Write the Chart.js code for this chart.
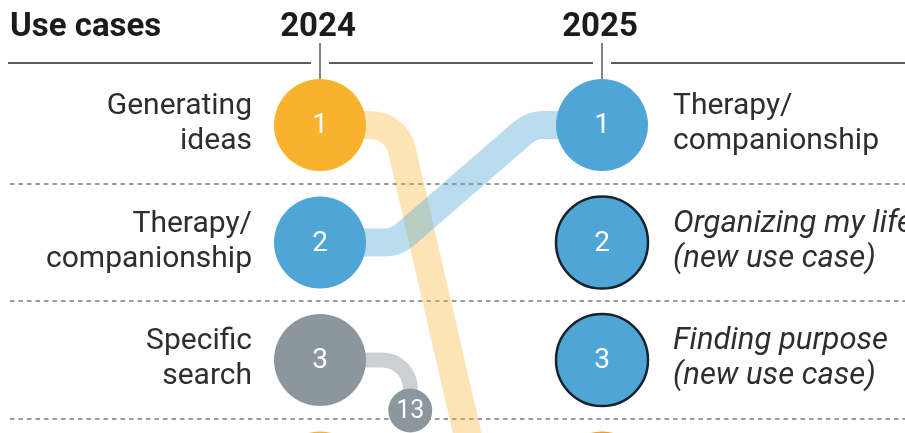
<!DOCTYPE html>
<html>
<head>
<meta charset="utf-8">
<script src="https://cdn.jsdelivr.net/npm/chart.js@4/dist/chart.umd.min.js"></script>
<style>
  html, body { margin: 0; padding: 0; background: #fff; }
  #wrap { width: 905px; height: 433px; position: relative; }
</style>
</head>
<body>
<div id="wrap"><canvas id="bump"></canvas></div>
<script>
const years = ["2024", "2025"];
const ranks = [1, 2, 3, 4];
const labels2024 = [["Generating", "ideas"], ["Therapy/", "companionship"], ["Specific", "search"], ["Editing text"]];
const labels2025 = [["Therapy/", "companionship"], ["Organizing my life", "(new use case)"], ["Finding purpose", "(new use case)"], ["Enhanced learning"]];
const newUseCase2025 = [false, true, true, false];
const group2024 = ["ideas", "support", "search", "ideas"];
const group2025 = ["support", "support", "support", "learning"];

// where the 2024 top three ended up in 2025
const movedFrom = [1, 2, 3];
const movedTo = [6, 1, 13];
const movedGroup = ["ideas", "support", "search"];
const LIST_LENGTH = 10; // anything ranked below this gets a short stub

const COLORS = { ideas: "#f8b22e", support: "#4fa5d6", search: "#8b969d", learning: "#f29d2a" };
const BANDS = { ideas: "rgba(248,178,46,0.35)", support: "rgba(79,170,214,0.4)", search: "rgba(139,150,157,0.45)" };
const FONT = "Roboto, 'Liberation Sans', sans-serif";

// pixel layout of the two year columns and the rank rows
const W = 905, H = 433;
const X0 = 320, X_UNIT = 282;
const Y0 = 125, Y_UNIT = 117.5;
const R = 46;

// stub marker sits just below and right of its 2024 circle
const stubPoints = movedTo
  .map((to, i) => ({ to, from: movedFrom[i], g: movedGroup[i] }))
  .filter(d => d.to > LIST_LENGTH);

function bandPath(ctx, x0, y0, x1, y1, xa, xb, r) {
  ctx.beginPath();
  ctx.moveTo(x0, y0);
  if (y0 !== y1) {
    ctx.arcTo(xa, y0, xb, y1, r);
    ctx.arcTo(xb, y1, x1, y1, r);
  }
  ctx.lineTo(x1, y1);
}

const bumpDecor = {
  id: "bumpDecor",
  beforeDatasetsDraw(chart) {
    const { ctx, scales: { x, y } } = chart;
    const xs = years.map((_, i) => x.getPixelForValue(i));
    ctx.save();

    // header
    ctx.fillStyle = "#1b1b1b";
    ctx.font = "bold 33px " + FONT;
    ctx.textBaseline = "alphabetic";
    ctx.textAlign = "left";
    ctx.fillText("Use cases", 10, 36);
    ctx.textAlign = "center";
    years.forEach((yr, i) => ctx.fillText(yr, xs[i] - 2, 36));

    // top rule with gaps for the year ticks
    ctx.strokeStyle = "#5a5a5a";
    ctx.lineWidth = 2;
    let start = 8;
    xs.forEach(px => {
      ctx.beginPath(); ctx.moveTo(start, 63); ctx.lineTo(px - 9, 63); ctx.stroke();
      start = px + 9;
    });
    ctx.beginPath(); ctx.moveTo(start, 63); ctx.lineTo(W, 63); ctx.stroke();
    ctx.lineWidth = 1.5;
    xs.forEach(px => {
      ctx.beginPath(); ctx.moveTo(px, 43); ctx.lineTo(px, y.getPixelForValue(1) - R); ctx.stroke();
    });

    // dashed separators between rows
    ctx.strokeStyle = "#9c9c9c";
    ctx.lineWidth = 2;
    ctx.setLineDash([4.5, 4]);
    ranks.forEach(r => {
      const py = Math.round(y.getPixelForValue(r + 0.5));
      ctx.beginPath(); ctx.moveTo(10, py); ctx.lineTo(W, py); ctx.stroke();
    });
    ctx.setLineDash([]);

    // bands linking 2024 rank to 2025 rank
    ctx.lineCap = "butt";
    ctx.lineJoin = "round";
    const xa = x.getPixelForValue(0.27), xb = x.getPixelForValue(0.75);
    movedFrom.forEach((from, i) => {
      const to = movedTo[i];
      const y0 = y.getPixelForValue(from);
      ctx.strokeStyle = BANDS[movedGroup[i]];
      if (to > LIST_LENGTH) {
        const sx = x.getPixelForValue(0.32), sy = y.getPixelForValue(from + 0.43);
        ctx.lineWidth = 15;
        ctx.beginPath();
        ctx.moveTo(xs[0], y0);
        ctx.arcTo(sx, y0, sx, sy, 28);
        ctx.lineTo(sx, sy);
        ctx.stroke();
      } else {
        ctx.lineWidth = 28;
        bandPath(ctx, xs[0], y0, xs[1], y.getPixelForValue(to), xa, xb, 32);
        ctx.stroke();
      }
    });
    ctx.restore();
  },
  afterDatasetsDraw(chart) {
    const { ctx, scales: { x, y } } = chart;
    ctx.save();

    // rank numbers inside the circles
    ctx.fillStyle = "#ffffff";
    ctx.textAlign = "center";
    ctx.textBaseline = "middle";
    ctx.font = "28px " + FONT;
    [0, 1].forEach(di => {
      chart.getDatasetMeta(di).data.forEach((pt, i) => ctx.fillText(String(ranks[i]), pt.x, pt.y + 1));
    });
    ctx.font = "25px " + FONT;
    chart.getDatasetMeta(2).data.forEach((pt, i) => ctx.fillText(String(stubPoints[i].to), pt.x, pt.y + 1));

    // use-case names
    ctx.fillStyle = "#2e2e2e";
    ctx.textBaseline = "alphabetic";
    const drawLines = (lines, px, py, italic) => {
      ctx.font = (italic ? "italic 31px " : "30px ") + FONT;
      const top = py - 11 - (lines.length - 2) * 17;
      lines.forEach((ln, k) => ctx.fillText(ln, px, top + k * 35));
    };
    ctx.textAlign = "right";
    labels2024.forEach((lines, i) => drawLines(lines, x.getPixelForValue(0) - 68, y.getPixelForValue(ranks[i]), false));
    ctx.textAlign = "left";
    labels2025.forEach((lines, i) => drawLines(lines, x.getPixelForValue(1) + 71, y.getPixelForValue(ranks[i]), newUseCase2025[i]));
    ctx.restore();
  }
};

new Chart(document.getElementById("bump"), {
  type: "scatter",
  data: {
    datasets: [
      {
        label: years[0],
        data: ranks.map(r => ({ x: 0, y: r })),
        pointRadius: R,
        pointBackgroundColor: group2024.map(g => COLORS[g]),
        pointBorderWidth: 0,
        clip: false,
      },
      {
        label: years[1],
        data: ranks.map(r => ({ x: 1, y: r })),
        pointRadius: R,
        pointBackgroundColor: group2025.map(g => COLORS[g]),
        pointBorderColor: newUseCase2025.map(n => (n ? "#16222d" : "rgba(0,0,0,0)")),
        pointBorderWidth: newUseCase2025.map(n => (n ? 2.5 : 0)),
        clip: false,
      },
      {
        label: "dropped",
        data: stubPoints.map(d => ({ x: 0.32, y: d.from + 0.43 })),
        pointRadius: 22,
        pointBackgroundColor: stubPoints.map(d => COLORS[d.g]),
        pointBorderWidth: 0,
        clip: false,
      },
    ],
  },
  options: {
    responsive: true,
    maintainAspectRatio: false,
    animation: false,
    events: [],
    layout: { padding: 0, autoPadding: false },
    plugins: { legend: { display: false }, tooltip: { enabled: false } },
    scales: {
      x: { type: "linear", display: false, min: -X0 / X_UNIT, max: (W - X0) / X_UNIT },
      y: { type: "linear", display: false, reverse: true, min: 1 - Y0 / Y_UNIT, max: 1 + (H - Y0) / Y_UNIT },
    },
  },
  plugins: [bumpDecor],
});
</script>
</body>
</html>
